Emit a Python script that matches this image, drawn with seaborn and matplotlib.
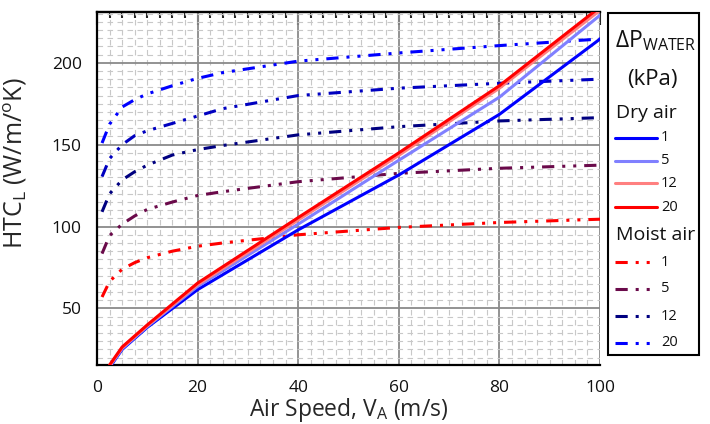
import matplotlib
matplotlib.use("Agg")
import matplotlib.pyplot as plt
from matplotlib.lines import Line2D
from matplotlib.patches import Rectangle
from matplotlib.ticker import MultipleLocator
import numpy as np
import pandas as pd
import seaborn as sns

# ---------------- data ----------------
dry_x = [2.5, 5, 10, 20, 40, 60, 80, 100]
dry_1 = [14.0, 25.0, 38.5, 61.5, 98.0, 131.5, 168.5, 214.5]
dry_5 = [14.5, 25.5, 39.0, 63.5, 101.5, 140.5, 179.0, 229.0]
dry_12 = [15.0, 26.0, 39.5, 64.5, 104.0, 143.5, 184.5, 232.0]
dry_20 = [15.5, 26.5, 40.0, 65.5, 105.5, 145.0, 186.0, 234.0]

moist_x = [1, 2.5, 5, 7.5, 10, 15, 20, 25, 40, 60, 80, 100]
moist_1 = [57.0, 66.5, 74.0, 78.0, 81.0, 85.0, 88.0, 90.0, 95.0, 99.5, 102.5, 104.5]
moist_5 = [83.5, 94.5, 101.5, 106.5, 110.5, 115.0, 119.0, 121.3, 127.4, 132.5, 135.6, 137.5]
moist_12 = [109.0, 120.0, 128.5, 133.5, 137.5, 143.7, 147.0, 149.5, 156.0, 161.0, 164.5, 166.5]
moist_16 = [130.5, 141.5, 150.0, 155.5, 158.5, 163.0, 167.5, 172.0, 180.0, 184.5, 187.5, 190.0]
moist_20 = [151.0, 162.5, 173.0, 177.5, 181.0, 186.0, 190.5, 194.0, 201.0, 206.0, 210.5, 214.5]

dry_labels = ["1", "5", "12", "20"]
moist_labels = ["1", "5", "12", "20"]

x_ticks = [0, 20, 40, 60, 80, 100]
y_ticks = [50, 100, 150, 200]

# ---------------- style ----------------
sns.set_theme(style="white")
plt.rcParams["font.family"] = ["Open Sans", "DejaVu Sans"]
plt.rcParams["mathtext.fontset"] = "custom"
plt.rcParams["mathtext.rm"] = "Open Sans"
plt.rcParams["mathtext.it"] = "Open Sans"
plt.rcParams["mathtext.bf"] = "Open Sans"

W, H = 710, 424
fig = plt.figure(figsize=(W / 100, H / 100), dpi=100)
fig.patch.set_facecolor("white")
L, R, T, B = 97, 600, 12, 365
ax = fig.add_axes([L / W, 1 - B / H, (R - L) / W, (B - T) / H])
ax.set_facecolor("white")

LW = 2.2
dashdotdot = (0, (4, 2.6, 1, 2.6, 1, 2.6))

dry_colors = ["#0000FF", "#8080FF", "#FF8080", "#FF0000"]
moist_colors = ["#FF0000", "#6A0A4A", "#000080", "#0000FF"]
extra_color = "#0000C0"

# moist (dash-dot-dot) lines
moist_series = [moist_1, moist_5, moist_12, moist_20]
for vals, c in zip(moist_series, moist_colors):
    df = pd.DataFrame({"x": moist_x, "y": vals})
    sns.lineplot(data=df, x="x", y="y", ax=ax, color=c, lw=LW,
                 linestyle=dashdotdot, sort=False, estimator=None, zorder=3)
df = pd.DataFrame({"x": moist_x, "y": moist_16})
sns.lineplot(data=df, x="x", y="y", ax=ax, color=extra_color, lw=LW,
             linestyle=dashdotdot, sort=False, estimator=None, zorder=3)

# dry (solid) lines
for vals, c in zip([dry_1, dry_5, dry_12, dry_20], dry_colors):
    df = pd.DataFrame({"x": dry_x, "y": vals})
    sns.lineplot(data=df, x="x", y="y", ax=ax, color=c, lw=LW,
                 sort=False, estimator=None, zorder=4)

ax.set_xlim(0, 100)
ax.set_ylim(15.5, 231)

# grid
ax.xaxis.set_major_locator(MultipleLocator(20))
ax.xaxis.set_minor_locator(MultipleLocator(2.5))
ax.yaxis.set_major_locator(MultipleLocator(50))
ax.yaxis.set_minor_locator(MultipleLocator(5))
ax.set_axisbelow(True)
ax.grid(which="minor", color="#C8C8C8", lw=0.8, linestyle=(0, (5, 4)))
ax.grid(which="major", color="#8A8A8A", lw=1.3, linestyle="-")

ax.set_xticks(x_ticks)
ax.set_yticks(y_ticks)

ax.spines["right"].set_visible(False)
for side in ["left", "bottom", "top"]:
    ax.spines[side].set_color("black")
    ax.spines[side].set_linewidth(1.6)

ax.tick_params(axis="both", which="major", direction="out", length=9, width=1.5,
               color="black", labelsize=12.5, labelcolor="#111111", pad=2)
ax.tick_params(axis="both", which="minor", direction="out", length=4.5, width=1.5,
               color="black")
ax.tick_params(axis="y", which="both", right=False)
ax.tick_params(axis="x", which="both", top=False)

sec = ax.secondary_xaxis("top")
sec.xaxis.set_major_locator(MultipleLocator(20))
sec.xaxis.set_minor_locator(MultipleLocator(2.5))
sec.tick_params(which="major", direction="in", length=9, width=1.5, labeltop=False)
sec.tick_params(which="minor", direction="in", length=4.5, width=1.5)
sec.spines["top"].set_linewidth(1.6)

ax.set_xlabel(r"Air Speed, V$_\mathregular{A}$ (m/s)", fontsize=16.5)
ax.xaxis.set_label_coords(0.5, -0.088)
ax.xaxis.label.set_va("top")
ax.set_ylabel(r"HTC$_\mathregular{L}$ (W/m/$^\mathregular{o}$K)", fontsize=18)
ax.yaxis.set_label_coords(-0.135, 0.572)


# ---------------- legend (drawn manually) ----------------
def fx(px):
    return px / W


def fy(py):
    return 1 - py / H


fig.add_artist(Rectangle((fx(608), fy(355)), fx(699) - fx(608), fy(12.7) - fy(355),
                         transform=fig.transFigure, fill=False, edgecolor="black",
                         lw=1.5))
fig.text(fx(615), fy(41), "ΔP$_\\mathregular{WATER}$", fontsize=16.5, va="center",
         ha="left", color="#111111")
fig.text(fx(652), fy(79), "(kPa)", fontsize=16, va="center", ha="center",
         color="#111111")
fig.text(fx(616), fy(113), "Dry air", fontsize=14, va="center", ha="left",
         color="#111111")
dry_rows = [137.5, 160.5, 183.5, 207.5]
for lab, c, yy in zip(dry_labels, dry_colors, dry_rows):
    fig.add_artist(Line2D([fx(615), fx(657)], [fy(yy), fy(yy)], color=c, lw=LW,
                          transform=fig.transFigure))
    fig.text(fx(661), fy(yy), lab, fontsize=10.5, va="center", ha="left",
             color="#111111")
fig.text(fx(616), fy(235), "Moist air", fontsize=14, va="center", ha="left",
         color="#111111")
moist_rows = [262, 289, 316, 343]
for lab, c, yy in zip(moist_labels, moist_colors, moist_rows):
    fig.add_artist(Line2D([fx(615), fx(655)], [fy(yy), fy(yy)], color=c, lw=LW,
                          linestyle=dashdotdot, transform=fig.transFigure))
    fig.text(fx(661), fy(yy), lab, fontsize=10.5, va="center", ha="left",
             color="#111111")

fig.savefig("out.png", dpi=100, facecolor="white")
